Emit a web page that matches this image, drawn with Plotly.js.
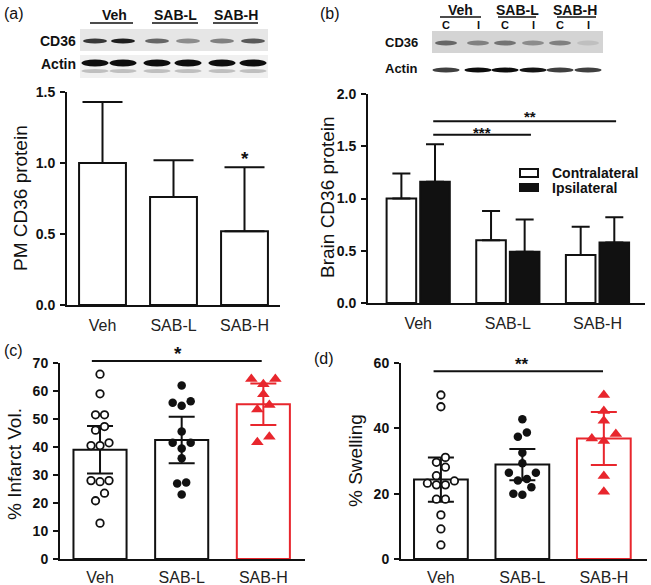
<!DOCTYPE html>
<html><head><meta charset="utf-8">
<script src="https://cdn.plot.ly/plotly-3.0.1.min.js"></script>
<style>html,body{margin:0;padding:0;background:#fff}#chart{width:651px;height:585px}</style>
</head><body><div id="chart"></div>
<script>
// ---------------- data ----------------
const groups = ['Veh', 'SAB-L', 'SAB-H'];
// (a) PM CD36 protein
const pmCD36Mean = [1.0, 0.76, 0.52];
const pmCD36Err  = [0.43, 0.26, 0.45];
// (b) Brain CD36 protein
const brainContraMean = [1.0, 0.60, 0.46];
const brainContraErr  = [0.24, 0.28, 0.27];
const brainIpsiMean   = [1.16, 0.49, 0.58];
const brainIpsiErr    = [0.36, 0.31, 0.24];
// (c) % Infarct Vol.
const infarctMean = [39.0, 42.5, 55.3];
const infarctErr  = [8.5, 8.3, 7.4];
const infarctVeh  = [66, 59, 51.5, 51.5, 47.3, 46, 41.5, 40.5, 40.5, 28, 28, 27.6, 23.5, 20.8, 12.8];
const infarctSABL = [62, 56.3, 55.8, 54.7, 45.5, 41.5, 41.5, 39.5, 36, 27.3, 27, 23];
const infarctSABH = [64.3, 64.3, 62.4, 58.8, 55, 53.4, 43.7, 41.7];
// (d) % Swelling
const swellMean = [24.3, 28.9, 36.9];
const swellErr  = [6.8, 4.8, 8.1];
const swellVeh  = [50.2, 46.6, 31.1, 29.6, 28.1, 25.5, 23.9, 23.2, 22.7, 22.7, 18.3, 18.3, 13.5, 9.2, 4.3];
const swellSABL = [42.8, 38.7, 37.4, 32.5, 29.3, 26.4, 26.4, 24.5, 24, 22, 20, 19.7];
const swellSABH = [50.2, 45.3, 42.3, 38.3, 36.9, 36.1, 25.4, 20.6];

// ---------------- layout helpers ----------------
const W = 651, H = 585;
const F = 'Arial, "Liberation Sans", Helvetica, sans-serif';
const BLK = '#111', RED = '#e8262d';
const px = x => x / W, py = y => 1 - y / H;
const P = {
  a: {x0: 67,  x1: 280, yb: 305, yt: 92,  xr: [-0.5, 2.5],   yr: [0, 1.5]},
  b: {x0: 368, x1: 645, yb: 303, yt: 94,  xr: [-0.56, 2.53], yr: [0, 2]},
  c: {x0: 60,  x1: 305, yb: 559, yt: 363, xr: [-0.49, 2.51], yr: [0, 70]},
  d: {x0: 401, x1: 647, yb: 559, yt: 363, xr: [-0.49, 2.53], yr: [0, 60]}
};
const pxPerY = p => (p.yb - p.yt) / (p.yr[1] - p.yr[0]);
const pxPerX = p => (p.x1 - p.x0) / (p.xr[1] - p.xr[0]);
const valPaperY = (p, v) => py(p.yb - (v - p.yr[0]) * pxPerY(p));

function yax(p, anchor, extra) {
  return Object.assign({
    domain: [py(p.yb), py(p.yt)], range: p.yr, anchor: anchor,
    showline: true, linewidth: 2, linecolor: BLK, ticks: 'outside', ticklen: 5, tickwidth: 2, tickcolor: BLK,
    showgrid: false, zeroline: false, ticklabelstandoff: 2,
    tickfont: {family: F, size: 14, weight: 'bold', color: BLK}
  }, extra);
}
function xax(p, anchor, extra) {
  return Object.assign({
    domain: [px(p.x0), px(p.x1)], range: p.xr, anchor: anchor,
    showline: true, linewidth: 2, linecolor: BLK, ticks: '', showgrid: false, zeroline: false,
    tickvals: [0, 1, 2], ticktext: groups, ticklabelstandoff: 3,
    tickfont: {family: F, size: 16, color: '#222'}
  }, extra);
}

// simple row-based beeswarm
function swarm(vals, center, p, spacingPx, thresh) {
  const ky = pxPerY(p), kx = pxPerX(p);
  const idx = vals.map((v, i) => i).sort((a, b) => vals[b] - vals[a]);
  const xs = new Array(vals.length);
  let i = 0;
  while (i < idx.length) {
    const row = [idx[i]]; let j = i + 1;
    while (j < idx.length && (vals[idx[i]] - vals[idx[j]]) * ky < thresh) { row.push(idx[j]); j++; }
    row.sort((a, b) => vals[a] - vals[b]);
    const n = row.length, slots = [];
    if (n % 2) { slots.push(0); for (let k = 1; slots.length < n; k++) { slots.push(-k, k); } }
    else { for (let k = 0.5; slots.length < n; k++) { slots.push(-k, k); } }
    row.forEach((id, m) => { xs[id] = center + slots[m] * spacingPx / kx; });
    i = j;
  }
  return xs;
}

const traces = [];
// (a)
traces.push({type: 'bar', x: [0, 1, 2], y: pmCD36Mean, width: 0.66, offset: -0.33, xaxis: 'x', yaxis: 'y',
  marker: {color: 'white', line: {color: BLK, width: 2}}, showlegend: false, hoverinfo: 'skip',
  error_y: {type: 'data', symmetric: false, array: pmCD36Err, arrayminus: [0, 0, 0], color: BLK, thickness: 2, width: 20}});
// (b)
traces.push({type: 'bar', name: 'Contralateral', x: [0, 1, 2], y: brainContraMean, xaxis: 'x2', yaxis: 'y2',
  marker: {color: 'white', line: {color: BLK, width: 2}}, showlegend: false, hoverinfo: 'skip',
  error_y: {type: 'data', symmetric: false, array: brainContraErr, arrayminus: [0, 0, 0], color: BLK, thickness: 2, width: 9}});
traces.push({type: 'bar', name: 'Ipsilateral', x: [0, 1, 2], y: brainIpsiMean, xaxis: 'x2', yaxis: 'y2',
  marker: {color: BLK, line: {color: BLK, width: 2}}, showlegend: false, hoverinfo: 'skip',
  error_y: {type: 'data', symmetric: false, array: brainIpsiErr, arrayminus: [0, 0, 0], color: BLK, thickness: 2, width: 9}});

// (c),(d)
const colC = [BLK, BLK, RED];
const markerStyles = [
  {symbol: 'circle', color: 'white', size: 7.5, line: {color: BLK, width: 1.8}},
  {symbol: 'circle', color: BLK, size: 8.5, line: {width: 0}},
  {symbol: 'triangle-up', color: RED, size: 11, line: {width: 0}}
];
function scatterPanel(p, xa, ya, means, errs, pts, w) {
  for (let i = 0; i < 3; i++) {
    traces.push({type: 'bar', x: [i], y: [means[i]], width: w, offset: -w / 2, xaxis: xa, yaxis: ya,
      marker: {color: 'white', line: {color: colC[i], width: 2}}, showlegend: false, hoverinfo: 'skip',
      error_y: {type: 'data', array: [errs[i]], color: colC[i], thickness: 2, width: 13}});
  }
  for (let i = 0; i < 3; i++) {
    const sp = i === 2 ? 12 : 9;
    traces.push({type: 'scatter', mode: 'markers', x: swarm(pts[i], i, p, sp, 8.5), y: pts[i], xaxis: xa, yaxis: ya,
      marker: markerStyles[i], cliponaxis: false, showlegend: false, hoverinfo: 'skip'});
  }
}
scatterPanel(P.c, 'x3', 'y3', infarctMean, infarctErr, [infarctVeh, infarctSABL, infarctSABH], 0.65);
scatterPanel(P.d, 'x4', 'y4', swellMean, swellErr, [swellVeh, swellSABL, swellSABH], 0.66);

// ---------------- shapes & annotations ----------------
const shapes = [], ann = [];
const line = (x0, y0, x1, y1, w, c) => shapes.push({type: 'line', xref: 'paper', yref: 'paper', x0: px(x0), x1: px(x1), y0: py(y0), y1: py(y1), line: {color: c || BLK, width: w || 2}});
const rect = (x0, y0, x1, y1, fill, lc, lw) => shapes.push({type: 'rect', xref: 'paper', yref: 'paper', x0: px(x0), x1: px(x1), y0: py(y0), y1: py(y1), fillcolor: fill, line: {color: lc || fill, width: lw || 0}});
const ell = (cx, cy, w, h, fill) => shapes.push({type: 'circle', xref: 'paper', yref: 'paper', x0: px(cx - w / 2), x1: px(cx + w / 2), y0: py(cy + h / 2), y1: py(cy - h / 2), fillcolor: fill, line: {width: 0}});
const txt = (x, y, t, size, bold, xanchor, extra) => ann.push(Object.assign({xref: 'paper', yref: 'paper', x: px(x), y: py(y), text: t, showarrow: false, xanchor: xanchor || 'center', yanchor: 'middle',
  font: {family: F, size: size, color: BLK, weight: bold ? 'bold' : 'normal'}}, extra || {}));
const gray = d => { const v = Math.round(255 * (1 - d)); return `rgb(${v},${v},${v})`; };

// panel labels
txt(2, 13, '(a)', 16, false, 'left');
txt(318, 13, '(b)', 16, false, 'left');
txt(2, 350, '(c)', 16, false, 'left');
txt(312, 358, '(d)', 16, false, 'left');

// blot (a)
[['Veh', 114, 90, 133], ['SAB-L', 175, 152, 198], ['SAB-H', 236, 213, 258]].forEach(h => { txt(h[1], 15, h[0], 14, true); line(h[2], 23, h[3], 23, 1.5); });
txt(58, 41, 'CD36', 14, true); txt(58, 64, 'Actin', 14, true);
rect(80, 29, 268, 51, '#e6e6e6');
rect(80, 55, 268, 78, '#f0f0f0');
const lanesA = [95, 123, 157, 188, 222, 253];
const cdA = [0.78, 0.88, 0.6, 0.45, 0.5, 0.65];
lanesA.forEach((x, i) => { ell(x, 41, 24, 5, gray(cdA[i])); ell(x, 63, 27, 7, gray(0.95)); ell(x, 71, 27, 4, gray(0.25)); });

// blot (b)
[['Veh', 460, 440, 481], ['SAB-L', 517, 498, 536], ['SAB-H', 575, 557, 596]].forEach(h => { txt(h[1], 10, h[0], 14, true); line(h[2], 17, h[3], 17, 1.5); });
const lanesB = [446, 478, 505, 533, 560, 588];
lanesB.forEach((x, i) => txt(x, 25, i % 2 ? 'I' : 'C', 11, true));
txt(401, 43, 'CD36', 13, true); txt(401, 68, 'Actin', 13, true);
rect(432, 31, 603, 53, '#d4d4d4');
const cdB = [0.6, 0.5, 0.55, 0.45, 0.5, 0.25];
const acB = [0.75, 0.95, 0.95, 0.92, 0.75, 0.75];
lanesB.forEach((x, i) => { ell(x, 43, 22, 5, gray(cdB[i])); ell(x, 70, 27, 5, gray(acB[i])); });

// axis titles
txt(20, 198, 'PM CD36 protein', 19, false, 'center', {textangle: -90});
txt(327, 197, 'Brain CD36 protein', 19, false, 'center', {textangle: -90});
txt(14, 464, '% Infarct Vol.', 19, false, 'center', {textangle: -90});
txt(355, 461, '% Swelling', 19, false, 'center', {textangle: -90});

// legend (b)
rect(520, 169, 538, 177, 'white', BLK, 2);
rect(520, 184, 538, 191, BLK, BLK, 2);
txt(550, 173, 'Contralateral', 14, true, 'left');
txt(550, 188, 'Ipsilateral', 14, true, 'left');

// significance
const ipsOff = 0.1875;
shapes.push({type: 'line', xref: 'x2', yref: 'y2', x0: ipsOff - 0.02, x1: 1 + ipsOff + 0.07, y0: 1.61, y1: 1.61, line: {color: BLK, width: 2}});
shapes.push({type: 'line', xref: 'x2', yref: 'y2', x0: ipsOff - 0.02, x1: 2 + ipsOff + 0.02, y0: 1.74, y1: 1.74, line: {color: BLK, width: 2}});
ann.push({xref: 'x2', yref: 'y2', x: 0.71, y: 1.66, text: '***', showarrow: false, yanchor: 'middle', yshift: -3, font: {family: F, size: 15, weight: 'bold', color: BLK}});
ann.push({xref: 'x2', yref: 'y2', x: 1.25, y: 1.81, text: '**', showarrow: false, yanchor: 'middle', yshift: -3, font: {family: F, size: 15, weight: 'bold', color: BLK}});
ann.push({xref: 'x', yref: 'y', x: 2, y: 1.06, text: '*', showarrow: false, yanchor: 'middle', yshift: -4, font: {family: F, size: 19, weight: 'bold', color: BLK}});
shapes.push({type: 'line', xref: 'x3', yref: 'paper', x0: -0.1, x1: 1.98, y0: valPaperY(P.c, 70.7), y1: valPaperY(P.c, 70.7), line: {color: BLK, width: 2}});
ann.push({xref: 'x3', yref: 'paper', x: 0.955, y: valPaperY(P.c, 75), text: '*', showarrow: false, yanchor: 'middle', yshift: -4, font: {family: F, size: 19, weight: 'bold', color: BLK}});
shapes.push({type: 'line', xref: 'x4', yref: 'y4', x0: -0.09, x1: 1.99, y0: 57.5, y1: 57.5, line: {color: BLK, width: 2}});
ann.push({xref: 'x4', yref: 'paper', x: 0.99, y: valPaperY(P.d, 60.6), text: '**', showarrow: false, yanchor: 'middle', yshift: -3, font: {family: F, size: 17, weight: 'bold', color: BLK}});

const layout = {
  width: W, height: H, margin: {l: 0, r: 0, t: 0, b: 0},
  paper_bgcolor: 'white', plot_bgcolor: 'white', showlegend: false,
  barmode: 'group', bargap: 0.25, bargroupgap: 0.12,
  font: {family: F, color: BLK},
  xaxis: xax(P.a, 'y', {ticklabelstandoff: 5}), yaxis: yax(P.a, 'x', {dtick: 0.5, tickformat: '.1f'}),
  xaxis2: xax(P.b, 'y2', {ticklabelstandoff: 5}), yaxis2: yax(P.b, 'x2', {dtick: 0.5, tickformat: '.1f'}),
  xaxis3: xax(P.c, 'y3'), yaxis3: yax(P.c, 'x3', {dtick: 10}),
  xaxis4: xax(P.d, 'y4'), yaxis4: yax(P.d, 'x4', {tickvals: [0, 20, 40, 60]}),
  shapes: shapes, annotations: ann
};
Plotly.newPlot('chart', traces, layout, {staticPlot: true, displayModeBar: false});
</script></body></html>
